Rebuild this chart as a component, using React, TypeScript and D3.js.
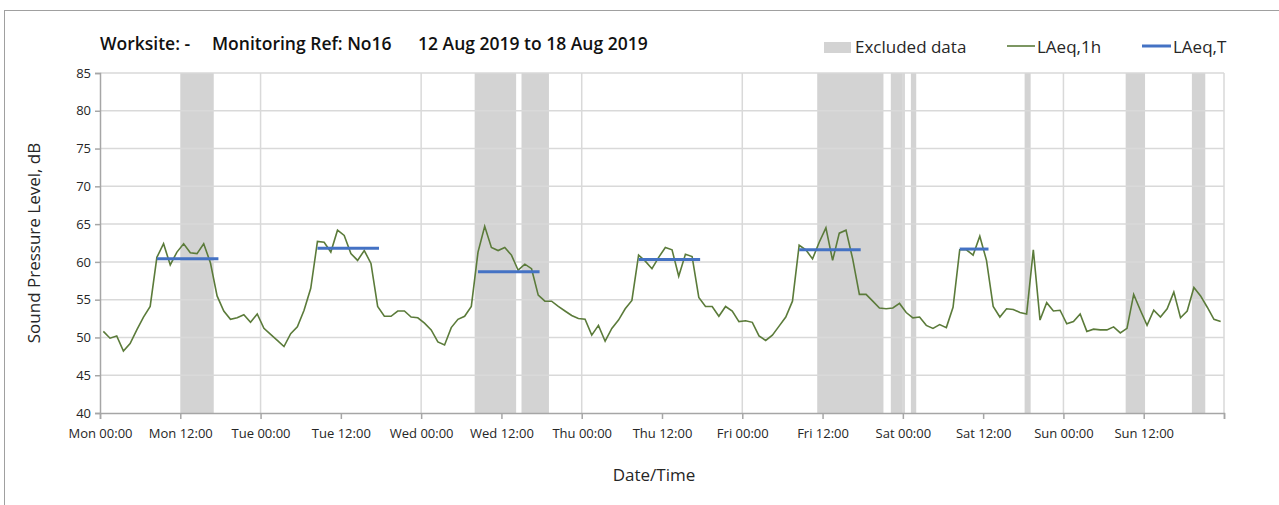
import { useEffect, useRef } from "react";
import * as d3 from "d3";

// hourly LAeq,1h values, one array per day (hour 0..23)
const monday = [50.8, 49.9, 50.2, 48.2, 49.2, 51.0, 52.7, 54.1, 60.6, 62.4, 59.6, 61.3, 62.4, 61.2, 61.1, 62.4, 59.9, 55.5, 53.5, 52.4, 52.6, 53.0, 52.0, 53.1];
const tuesday = [51.2, 50.4, 49.6, 48.8, 50.5, 51.4, 53.6, 56.5, 62.7, 62.6, 61.3, 64.2, 63.5, 61.1, 60.2, 61.5, 59.8, 54.1, 52.8, 52.8, 53.5, 53.5, 52.7, 52.6];
const wednesday = [51.9, 51.0, 49.4, 49.0, 51.3, 52.4, 52.8, 54.1, 61.3, 64.7, 61.9, 61.5, 61.9, 60.9, 58.9, 59.7, 59.1, 55.6, 54.8, 54.8, 54.1, 53.5, 52.9, 52.5];
const thursday = [52.4, 50.3, 51.6, 49.5, 51.2, 52.3, 53.8, 54.9, 60.9, 60.1, 59.1, 60.6, 61.9, 61.6, 58.1, 61.0, 60.7, 55.3, 54.1, 54.1, 52.8, 54.1, 53.5, 52.1];
const friday = [52.2, 52.0, 50.2, 49.6, 50.3, 51.5, 52.7, 54.8, 62.2, 61.6, 60.4, 62.6, 64.5, 60.2, 63.8, 64.2, 60.4, 55.7, 55.7, 54.8, 53.9, 53.8, 53.9, 54.5];
const saturday = [53.3, 52.6, 52.7, 51.6, 51.2, 51.7, 51.3, 54.0, 61.6, 61.6, 60.9, 63.4, 60.2, 54.1, 52.7, 53.8, 53.7, 53.3, 53.1, 61.6, 52.3, 54.6, 53.5, 53.6];
const sunday = [51.8, 52.1, 53.1, 50.8, 51.1, 51.0, 51.0, 51.4, 50.6, 51.2, 55.7, 53.6, 51.6, 53.6, 52.7, 53.8, 56.0, 52.6, 53.5, 56.6, 55.5, 54.0, 52.4, 52.1];

// LAeq,T per period (hours from Mon 00:00)
const periodStart = [8.5, 32.5, 56.5, 80.5, 104.5, 128.5];
const periodEnd = [17.7, 41.7, 65.7, 89.7, 113.7, 132.8];
const periodLevel = [60.4, 61.8, 58.7, 60.3, 61.6, 61.7];

// excluded data windows (hours from Mon 00:00)
const excludedStart = [12, 56, 63, 107.2, 118.2, 121.2, 138.2, 153.3, 163.2];
const excludedEnd = [17, 62.2, 67.1, 117.1, 120.3, 122, 139.1, 156.2, 165.2];

const tickLabels = ["Mon 00:00", "Mon 12:00", "Tue 00:00", "Tue 12:00", "Wed 00:00", "Wed 12:00", "Thu 00:00", "Thu 12:00", "Fri 00:00", "Fri 12:00", "Sat 00:00", "Sat 12:00", "Sun 00:00", "Sun 12:00"];
const yTicks = [40, 45, 50, 55, 60, 65, 70, 75, 80, 85];

const FONT = "'Open Sans', 'Noto Sans', sans-serif";

function drawChart(el: SVGSVGElement) {
  const w = 1279;
  const h = 505;
  const margin = { top: 73, right: 55, bottom: 92, left: 100 };

  const svg = d3.select(el);
  svg.selectAll("*").remove();
  svg.attr("width", w).attr("height", h).style("font-family", FONT);

  svg.append("rect").attr("width", w).attr("height", h).attr("fill", "white");
  // chart area border (runs off the right/bottom edge)
  svg.append("rect").attr("x", 4.5).attr("y", 10.5).attr("width", w + 20).attr("height", h + 20)
    .attr("fill", "none").attr("stroke", "#a0a0a0");

  const hourly = [...monday, ...tuesday, ...wednesday, ...thursday, ...friday, ...saturday, ...sunday];

  const x = d3.scaleLinear().domain([0, 168]).range([margin.left, w - margin.right]);
  const y = d3.scaleLinear().domain([40, 85]).range([h - margin.bottom, margin.top]);

  const g = svg.append("g");

  // excluded data
  g.selectAll(".excl")
    .data(excludedStart)
    .enter()
    .append("rect")
    .attr("x", (d) => x(d))
    .attr("y", y(85))
    .attr("width", (d, i) => x(excludedEnd[i]) - x(d))
    .attr("height", y(40) - y(85))
    .attr("fill", "#d3d3d3");

  // horizontal grid
  g.append("g")
    .selectAll("line")
    .data(yTicks.filter((d) => d > 40))
    .enter()
    .append("line")
    .attr("x1", x(0))
    .attr("x2", x(168))
    .attr("y1", (d) => y(d))
    .attr("y2", (d) => y(d))
    .attr("stroke", "#d9d9d9")
    .attr("stroke-width", 1.5);

  // vertical grid at day boundaries
  g.append("g")
    .selectAll("line")
    .data(d3.range(24, 169, 24))
    .enter()
    .append("line")
    .attr("x1", (d) => x(d))
    .attr("x2", (d) => x(d))
    .attr("y1", y(85))
    .attr("y2", y(40))
    .attr("stroke", "#d9d9d9")
    .attr("stroke-width", 1.5);

  // x axis
  const xAxis = d3
    .axisBottom(x)
    .tickValues(d3.range(0, 169, 12))
    .tickSize(6)
    .tickFormat((d, i) => tickLabels[i] ?? "");
  const xg = g.append("g").attr("transform", `translate(0,${y(40)})`).call(xAxis);
  xg.select(".domain").attr("stroke", "#a6a6a6").attr("stroke-width", 1.5);
  xg.selectAll(".tick line").attr("stroke", "#a6a6a6").attr("stroke-width", 1.5);
  xg.selectAll(".tick text").attr("font-size", 13).attr("font-family", FONT).attr("fill", "#262626").attr("dy", "1.25em");

  // y axis
  const yAxis = d3.axisLeft(y).tickValues(yTicks).tickSize(5).tickFormat(d3.format("d"));
  const yg = g.append("g").attr("transform", `translate(${x(0)},0)`).call(yAxis);
  yg.select(".domain").attr("stroke", "#a6a6a6").attr("stroke-width", 1.5);
  yg.selectAll(".tick line").attr("stroke", "#a6a6a6").attr("stroke-width", 1.5);
  yg.selectAll(".tick text").attr("font-size", 13).attr("font-family", FONT).attr("fill", "#262626").attr("x", -9);

  // LAeq,1h line
  const line = d3
    .line<number>()
    .x((d, i) => x(i + 0.5))
    .y((d) => y(d));
  g.append("path")
    .datum(hourly)
    .attr("fill", "none")
    .attr("stroke", "#5b7b3a")
    .attr("stroke-width", 1.6)
    .attr("d", line);

  // LAeq,T
  g.selectAll(".laeqt")
    .data(periodLevel)
    .enter()
    .append("line")
    .attr("x1", (d, i) => x(periodStart[i]))
    .attr("x2", (d, i) => x(periodEnd[i]))
    .attr("y1", (d) => y(d))
    .attr("y2", (d) => y(d))
    .attr("stroke", "#4472c4")
    .attr("stroke-width", 3);

  // title
  const title = svg.append("text").attr("y", 50).attr("font-size", 17.5).attr("font-weight", 600).attr("fill", "#111");
  title.append("tspan").attr("x", 100).text("Worksite: -");
  title.append("tspan").attr("x", 212).text("Monitoring Ref: No16");
  title.append("tspan").attr("x", 418).text("12 Aug 2019 to 18 Aug 2019");

  // legend
  const lg = svg.append("g").attr("font-size", 17).attr("fill", "#262626");
  lg.append("rect").attr("x", 824).attr("y", 42).attr("width", 27).attr("height", 11).attr("fill", "#d3d3d3");
  lg.append("text").attr("x", 855).attr("y", 53).text("Excluded data");
  lg.append("line").attr("x1", 1007).attr("x2", 1035).attr("y1", 46).attr("y2", 46).attr("stroke", "#5b7b3a").attr("stroke-width", 1.6);
  lg.append("text").attr("x", 1037).attr("y", 53).text("LAeq,1h");
  lg.append("line").attr("x1", 1142).attr("x2", 1171).attr("y1", 46).attr("y2", 46).attr("stroke", "#4472c4").attr("stroke-width", 3);
  lg.append("text").attr("x", 1173).attr("y", 53).text("LAeq,T");

  // axis titles
  svg.append("text")
    .attr("transform", `translate(40,${(y(40) + y(85)) / 2}) rotate(-90)`)
    .attr("text-anchor", "middle")
    .attr("font-size", 17)
    .attr("fill", "#262626")
    .text("Sound Pressure Level, dB");
  svg.append("text")
    .attr("x", 654)
    .attr("y", 481)
    .attr("text-anchor", "middle")
    .attr("font-size", 17)
    .attr("fill", "#262626")
    .text("Date/Time");
}

export default function App() {
  const ref = useRef<SVGSVGElement>(null);

  useEffect(() => {
    if (ref.current) drawChart(ref.current);
  }, []);

  return (
    <div style={{ position: "absolute", left: 0, top: 0 }}>
      <svg ref={ref} style={{ display: "block" }} />
    </div>
  );
}
